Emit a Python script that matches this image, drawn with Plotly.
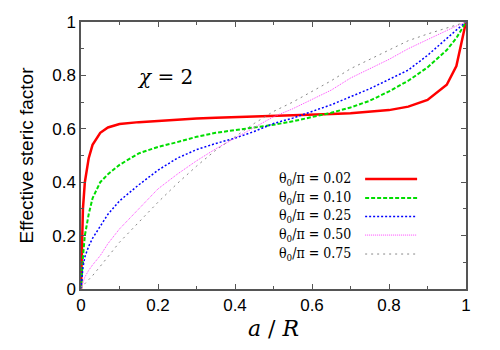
import plotly.graph_objects as go

x = [0, 0.002, 0.005, 0.01, 0.02, 0.03, 0.05, 0.07, 0.1, 0.15, 0.2, 0.25, 0.3, 0.35,
     0.4, 0.45, 0.5, 0.55, 0.6, 0.65, 0.7, 0.75, 0.8, 0.85, 0.9, 0.95, 0.975, 1.0]

y_002 = [0, 0.15, 0.3, 0.40, 0.49, 0.54, 0.585, 0.605, 0.618, 0.625, 0.63, 0.635, 0.639, 0.641,
         0.643, 0.645, 0.647, 0.649, 0.652, 0.655, 0.658, 0.663, 0.67, 0.683, 0.708, 0.765, 0.835, 1.0]
y_010 = [0, 0.06, 0.12, 0.2, 0.28, 0.34, 0.40, 0.43, 0.465, 0.508, 0.532, 0.55, 0.57, 0.585,
         0.595, 0.603, 0.615, 0.628, 0.645, 0.66, 0.68, 0.705, 0.74, 0.78, 0.83, 0.895, 0.94, 1.0]
y_025 = [0, 0.04, 0.08, 0.12, 0.16, 0.19, 0.235, 0.28, 0.33, 0.39, 0.445, 0.49, 0.522, 0.545,
         0.565, 0.59, 0.62, 0.64, 0.665, 0.69, 0.72, 0.75, 0.785, 0.82, 0.875, 0.94, 0.97, 1.0]
y_050 = [0, 0.01, 0.03, 0.045, 0.07, 0.09, 0.125, 0.17, 0.225, 0.30, 0.375, 0.43, 0.48, 0.525,
         0.565, 0.605, 0.645, 0.675, 0.71, 0.745, 0.79, 0.825, 0.86, 0.9, 0.935, 0.97, 0.985, 1.0]
y_075 = [0, 0.005, 0.01, 0.02, 0.035, 0.05, 0.085, 0.12, 0.175, 0.25, 0.325, 0.395, 0.46, 0.52,
         0.57, 0.62, 0.665, 0.7, 0.74, 0.78, 0.825, 0.86, 0.895, 0.93, 0.955, 0.978, 0.99, 1.0]

labels = ["0.02", "0.10", "0.25", "0.50", "0.75"]
series = [y_002, y_010, y_025, y_050, y_075]

xticks = [0, 0.2, 0.4, 0.6, 0.8, 1]
yticks = [0, 0.2, 0.4, 0.6, 0.8, 1]

SERIF = "DejaVu Serif"
SERIF_COND = "DejaVu Serif Condensed"
SANS = "Liberation Sans"
AXC = "#555555"

styles = [
    dict(color="#ff0000", width=2.5, dash="solid"),
    dict(color="#00dd00", width=2, dash="4px,2px"),
    dict(color="#0000ff", width=1.5, dash="2px,2px"),
    dict(color="#ff44ff", width=1, dash="1px,1px"),
    dict(color="#888888", width=1, dash="2px,4px"),
]

fig = go.Figure()
for ys, st, lab in zip(series, styles, labels):
    fig.add_trace(go.Scatter(x=x, y=ys, mode="lines", line=st, showlegend=False,
                             name=lab))

# manual legend (text left, sample line right)
leg_y = [0.412, 0.341, 0.272, 0.202, 0.131]
shapes = []
annotations = []
for lab, st, ly in zip(labels, styles, leg_y):
    annotations.append(dict(xref="paper", yref="paper", x=0.706, y=ly, xanchor="right",
                            yanchor="middle", showarrow=False,
                            text="θ<sub>0</sub>/π = " + lab,
                            font=dict(family=SERIF_COND, size=14, color="black")))
    shapes.append(dict(type="line", xref="paper", yref="paper", x0=0.738, x1=0.873,
                       y0=ly, y1=ly, line=st))

annotations.append(dict(xref="x", yref="y", x=0.218, y=0.794, showarrow=False,
                        text="<i>χ</i> = 2", xanchor="center", yanchor="middle",
                        font=dict(family=SERIF, size=20, color="black")))

axis_common = dict(
    showline=True, linecolor=AXC, linewidth=1.5, mirror="ticks",
    ticks="inside", ticklen=5, tickcolor=AXC, showgrid=False, zeroline=False,
    automargin=False,
    tickfont=dict(family=SANS, size=17, color="black"),
    minor=dict(ticks="inside", ticklen=3, tickcolor=AXC, dtick=0.1, showgrid=False),
)

# page has an 8px body margin, so the figure margins are offset by it
fig.update_layout(
    width=500, height=350,
    margin=dict(l=73, r=42, t=14, b=69),
    paper_bgcolor="white", plot_bgcolor="white",
    xaxis=dict(range=[0, 1], tickvals=xticks, ticktext=[f"{v:g}" for v in xticks],
               title=dict(text="<i>a</i> / <i>R</i>", standoff=6,
                          font=dict(family=SERIF, size=22, color="black")),
               **axis_common),
    yaxis=dict(range=[0, 1], tickvals=yticks, ticktext=[f"{v:g}" for v in yticks],
               title=dict(text="Effective steric factor", standoff=14,
                          font=dict(family=SANS, size=19, color="black")),
               **axis_common),
    shapes=shapes, annotations=annotations,
)

fig.write_html("out.html")
